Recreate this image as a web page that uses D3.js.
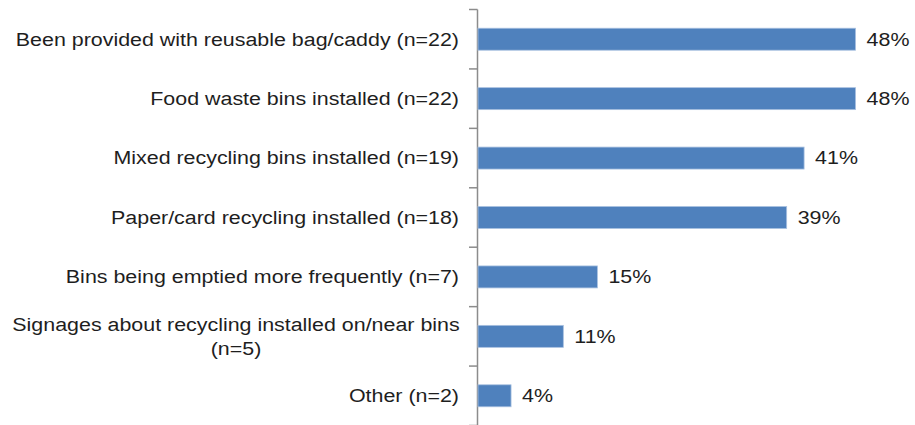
<!DOCTYPE html>
<html>
<head>
<meta charset="utf-8">
<script src="https://cdn.jsdelivr.net/npm/d3@7"></script>
<style>
  body { margin: 0; background: #fff; }
  text { font-family: "Liberation Sans", Arial, sans-serif; fill: #1e1e1e; font-size: 18px; }
</style>
</head>
<body>
<svg id="chart"></svg>
<script>
// chart data
var categories = [
    ['Been provided with reusable bag/caddy (n=22)'],
    ['Food waste bins installed (n=22)'],
    ['Mixed recycling bins installed (n=19)'],
    ['Paper/card recycling installed (n=18)'],
    ['Bins being emptied more frequently (n=7)'],
    ['Signages about recycling installed on/near bins', '(n=5)'],
    ['Other (n=2)']
];
var values = [47.8, 47.8, 41.3, 39.1, 15.2, 10.9, 4.3];
var valueLabels = ['48%', '48%', '41%', '39%', '15%', '11%', '4%'];

var width = 915;
var height = 425;
var stretch = 1.19; // the source picture is a bit wider than tall

var svg = d3.select('#chart')
    .attr('width', width)
    .attr('height', height);

var x = d3.scaleLinear().domain([0, 50]).range([477, 873]);
var y = d3.scaleBand()
    .domain(d3.range(categories.length))
    .range([9.5, 425.5])
    .paddingInner(0.63)
    .paddingOuter(0.315);

var bandStep = y.step();

// axis line with ticks on band boundaries
var axis = svg.append('g');
axis.append('line')
    .attr('x1', 477.5).attr('x2', 477.5)
    .attr('y1', 9.5).attr('y2', 430)
    .attr('stroke', '#8c8c8c').attr('stroke-width', 1.5);
axis.selectAll('line.tick')
    .data(d3.range(categories.length + 1))
    .enter().append('line')
    .attr('class', 'tick')
    .attr('x1', 469).attr('x2', 477.5)
    .attr('y1', function(d) { return 9.5 + d * bandStep; })
    .attr('y2', function(d) { return 9.5 + d * bandStep; })
    .attr('stroke', '#8c8c8c').attr('stroke-width', 1.5);

// bars
svg.append('g')
    .selectAll('rect')
    .data(values)
    .enter().append('rect')
    .attr('x', x(0) + 1)
    .attr('y', function(d, i) { return y(i); })
    .attr('width', function(d) { return x(d) - x(0) - 1; })
    .attr('height', y.bandwidth())
    .attr('fill', '#4f81bd')
    .attr('stroke', '#a9c1e0')
    .attr('stroke-width', 0.8);

function place(px, py) {
    return 'translate(' + px + ',' + py + ') scale(' + stretch + ',1)';
}

// value labels
svg.append('g')
    .selectAll('text')
    .data(values)
    .enter().append('text')
    .attr('transform', function(d, i) {
        return place(x(d) + 11, y(i) + y.bandwidth() / 2);
    })
    .attr('dy', '0.35em')
    .text(function(d, i) { return valueLabels[i]; });

// category labels
var labels = svg.append('g')
    .selectAll('text')
    .data(categories)
    .enter().append('text')
    .attr('transform', function(d, i) {
        var cy = y(i) + y.bandwidth() / 2;
        return d.length > 1 ? place(236, cy) : place(459, cy);
    })
    .attr('text-anchor', function(d) { return d.length > 1 ? 'middle' : 'end'; });

labels.each(function(d) {
    var t = d3.select(this);
    if (d.length === 1) {
        t.attr('dy', '0.35em').text(d[0]);
    } else {
        d.forEach(function(line, k) {
            t.append('tspan')
                .attr('x', 0)
                .attr('dy', k === 0 ? '-0.3em' : '1.35em')
                .text(line);
        });
    }
});
</script>
</body>
</html>
